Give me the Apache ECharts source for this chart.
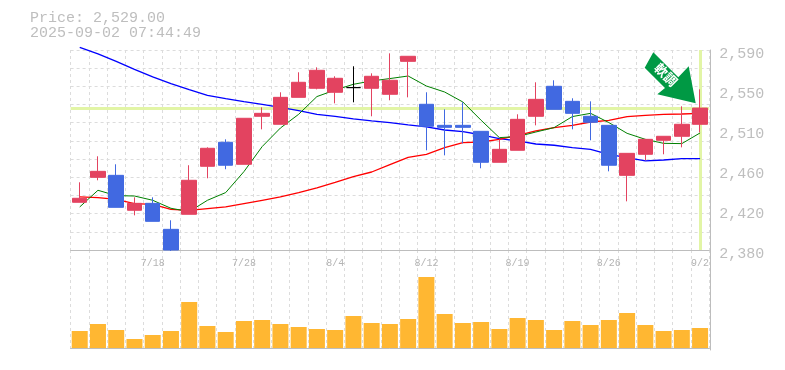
<!DOCTYPE html>
<html>
<head>
<meta charset="utf-8">
<style>html,body{margin:0;padding:0;background:#fff}#c{width:785px;height:370px}</style>
<script src="https://cdn.jsdelivr.net/npm/echarts@6/dist/echarts.min.js"></script>
</head>
<body>
<div id="c"></div>
<script>
var categories = ['7/14','7/15','7/16','7/17','7/18','7/22','7/23','7/24','7/25','7/28','7/29','7/30','7/31','8/1','8/4','8/5','8/6','8/7','8/8','8/12','8/13','8/14','8/15','8/18','8/19','8/20','8/21','8/22','8/25','8/26','8/27','8/28','8/29','9/1','9/2'];
var shownDates = ['7/18','7/28','8/4','8/12','8/19','8/26','9/2'];
var opens  = [2430.1,2456.3,2458.4,2421.7,2429.0,2401.7,2417.5,2467.9,2493.1,2470.0,2520.4,2512.0,2540.3,2549.8,2545.6,2550.5,2549.8,2543.5,2578.1,2533.0,2510.9,2510.9,2504.6,2472.1,2484.7,2520.4,2551.9,2536.1,2520.4,2510.9,2458.4,2480.5,2495.2,2499.4,2512.0];
var closes = [2434.3,2462.6,2424.8,2429.0,2410.1,2380.0,2453.2,2486.8,2469.0,2518.3,2523.5,2540.3,2556.1,2568.7,2560.3,2550.5,2562.4,2558.2,2583.4,2509.9,2508.8,2508.8,2472.1,2485.7,2517.2,2538.2,2527.7,2523.5,2514.1,2469.0,2481.5,2496.2,2499.4,2512.0,2529.0];
var lows   = [2430.1,2453.2,2424.8,2416.4,2410.1,2379.0,2417.5,2455.3,2464.8,2470.0,2506.7,2512.0,2540.3,2548.7,2534.0,2535.1,2520.4,2537.2,2540.3,2484.7,2479.4,2492.0,2465.8,2472.1,2484.7,2510.9,2527.7,2506.7,2495.2,2462.6,2431.1,2474.2,2480.5,2487.8,2503.6];
var highs  = [2451.1,2478.4,2470.0,2435.3,2435.3,2411.2,2469.0,2487.8,2496.2,2518.3,2529.8,2545.6,2566.6,2571.8,2562.4,2572.9,2565.5,2586.5,2583.4,2545.6,2527.7,2535.1,2504.6,2496.2,2522.5,2556.1,2558.2,2539.3,2536.1,2510.9,2481.5,2496.2,2499.4,2530.9,2548.7];
var maLong = [2592.8,2586.0,2578.1,2569.7,2561.7,2554.7,2548.4,2542.4,2539.0,2535.8,2533.0,2529.8,2526.4,2522.5,2520.4,2517.6,2515.5,2513.8,2511.3,2509.2,2506.0,2504.3,2501.0,2497.0,2494.5,2491.3,2490.0,2487.5,2485.7,2480.5,2477.0,2473.5,2474.5,2476.0,2476.0];
var maMid  = [2435.7,2435.0,2433.2,2428.7,2428.0,2422.7,2421.7,2423.5,2425.2,2428.7,2432.2,2435.7,2440.3,2445.3,2451.1,2457.1,2461.9,2469.7,2477.3,2480.5,2487.5,2492.8,2493.4,2496.2,2500.4,2505.0,2508.5,2510.9,2514.4,2516.2,2520.1,2521.4,2522.5,2522.8,2523.5];
var maShort= [2425.2,2442.7,2437.1,2436.7,2432.2,2423.8,2420.3,2432.2,2440.3,2462.3,2488.6,2508.1,2522.5,2541.1,2548.0,2554.0,2557.5,2560.0,2562.7,2552.2,2545.9,2535.4,2516.2,2498.0,2499.1,2503.9,2508.5,2520.1,2523.5,2513.8,2502.5,2496.2,2492.0,2491.7,2502.9];
var volumes= [17,24,18,9,13,17,46,22,16,27,28,24,21,19,18,32,25,24,29,71,34,25,26,19,30,28,18,27,23,28,35,23,17,18,20];
var priceTicks = [2380,2422,2464,2506,2548,2590];
var gridTicks = [2380,2399.09,2418.18,2437.27,2456.36,2475.45,2494.55,2513.64,2532.73,2551.82,2570.91,2590];
var currentPrice = 2529;
var titleLines = 'Price: 2,529.00\n2025-09-02 07:44:49';
var arrowText = '軟調';

var axisColor = '#bdbdbd', gridColor = '#dcdcdc', textColor = '#bebebe', mono = '"Liberation Mono", monospace';
var candles = categories.map(function (c, i) { return [opens[i], closes[i], lows[i], highs[i]]; });
var dash = {color: gridColor, type: [3, 3], width: 1};

var chart = echarts.init(document.getElementById('c'), null, {renderer: 'canvas'});
chart.setOption({
  animation: false,
  backgroundColor: '#fff',
  grid: [
    {left: 70.6, top: 50, width: 638.6, height: 200},
    {left: 70.6, top: 250, width: 638.6, height: 100}
  ],
  xAxis: [
    {type: 'category', gridIndex: 0, data: categories, boundaryGap: true,
     axisLine: {lineStyle: {color: axisColor, width: 1}}, axisTick: {show: false},
     splitLine: {show: true, interval: 0, lineStyle: dash},
     axisLabel: {interval: function (i, v) { return shownDates.indexOf(v) >= 0; }, color: '#b4b4b4',
                 fontFamily: mono, fontSize: 10, margin: 8, hideOverlap: false}},
    {type: 'category', gridIndex: 1, data: categories, boundaryGap: true,
     axisLine: {lineStyle: {color: axisColor, width: 1}}, axisTick: {show: false},
     splitLine: {show: true, interval: 0, lineStyle: dash}, axisLabel: {show: false}}
  ],
  yAxis: [
    {type: 'value', gridIndex: 0, position: 'right', offset: 1, min: 2380, max: 2590, scale: true,
     axisLine: {show: true, lineStyle: {color: axisColor, width: 1}},
     axisTick: {show: false, customValues: gridTicks},
     splitLine: {show: true, lineStyle: dash},
     axisLabel: {customValues: priceTicks, color: textColor, fontFamily: mono, fontSize: 15, margin: 9,
                 verticalAlign: 'top', padding: [-3, 0, 0, 0],
                 formatter: function (v) { var r = Math.round(v / 10) * 10; return Math.floor(r / 1000) + ',' + String(r % 1000).padStart(3, '0'); }}},
    {type: 'value', gridIndex: 1, position: 'right', offset: 1, min: -2, max: 98,
     axisLine: {show: true, lineStyle: {color: axisColor, width: 1}},
     axisTick: {show: false}, splitLine: {show: false}, axisLabel: {show: false}}
  ],
  series: [
    {type: 'line', name: 'long', data: maLong, xAxisIndex: 0, yAxisIndex: 0, symbol: 'none', clip: false, z: 3, silent: true,
     lineStyle: {color: '#0000ff', width: 1.3}},
    {type: 'line', name: 'mid', data: maMid, xAxisIndex: 0, yAxisIndex: 0, symbol: 'none', z: 3, silent: true,
     lineStyle: {color: '#ff0000', width: 1.3}},
    {type: 'line', name: 'short', data: maShort, xAxisIndex: 0, yAxisIndex: 0, symbol: 'none', z: 3, silent: true,
     lineStyle: {color: '#008000', width: 1}},
    {type: 'candlestick', name: 'price', data: candles, xAxisIndex: 0, yAxisIndex: 0, barWidth: 15, z: 4,
     itemStyle: {color: '#e34360', color0: '#4169e1', borderColor: '#e34360', borderColor0: '#4169e1', borderColorDoji: '#000000', borderWidth: 1},
     markLine: {silent: true, symbol: 'none', z: 1, animation: false, label: {show: false},
       lineStyle: {color: '#e2f5a6', width: 3, type: 'solid'},
       data: [{yAxis: currentPrice}, {xAxis: categories[categories.length - 1]}]}},
    {type: 'bar', name: 'volume', data: volumes, xAxisIndex: 1, yAxisIndex: 1, barWidth: 16, silent: true,
     itemStyle: {color: '#ffb732'}}
  ],
  graphic: [
    {type: 'text', left: 30, top: 11, silent: true,
     style: {text: titleLines, fill: textColor, font: '15px "Liberation Mono", monospace', lineHeight: 15}},
    {type: 'polygon', silent: true, z: 20,
     shape: {points: [[653.3,52.3],[678.3,77.3],[688.7,66.3],[695.7,103.3],[657.3,94.3],[665,88],[644.7,67.7]]},
     style: {fill: '#009944'}},
    {type: 'text', silent: true, z: 21, x: 666, y: 74.7, rotation: -Math.PI / 4,
     style: {text: arrowText, fill: '#fff', font: 'bold 13px "Noto Sans CJK JP"', align: 'center', verticalAlign: 'middle'}}
  ]
});
</script>
</body>
</html>
